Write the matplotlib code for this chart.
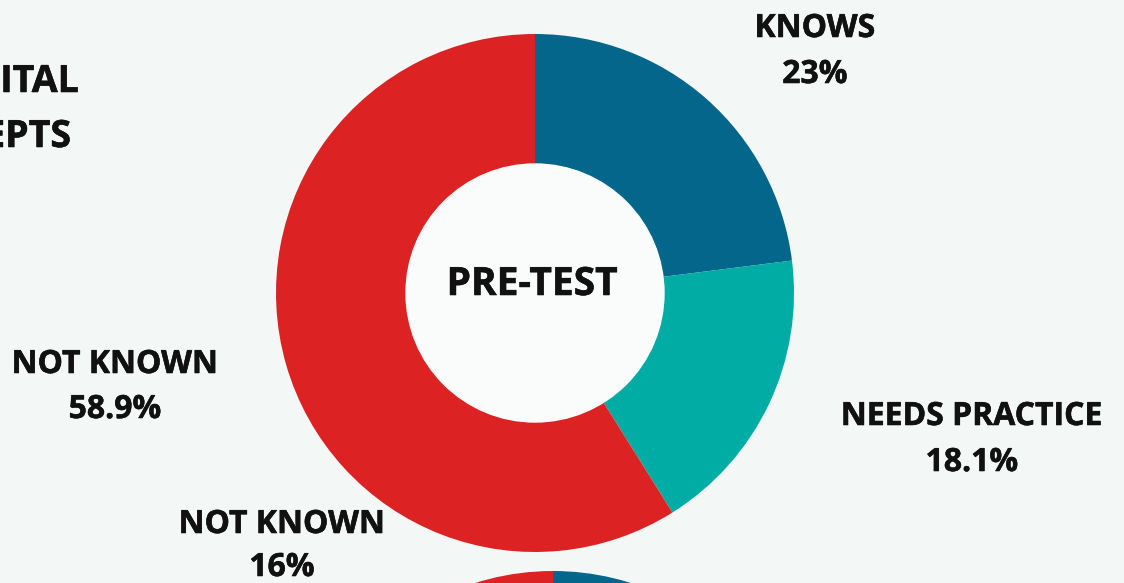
import matplotlib
matplotlib.use('Agg')
import matplotlib.pyplot as plt
import matplotlib.patheffects as pe

# data
categories = ['KNOWS', 'NEEDS PRACTICE', 'NOT KNOWN']
pre_test = [23, 18.1, 58.9]
post_test = [60, 24, 16]   # only the top of this ring is visible
colors = ['#03668a', '#00aca3', '#dc2222']
center_title = 'PRE-TEST'
side_title = ['ITAL', 'EPTS']

W, H = 1124, 583
bg = '#f3f8f7'

plt.rcParams['font.family'] = ['Open Sans', 'DejaVu Sans']

fig = plt.figure(figsize=(W / 100, H / 100), dpi=100, facecolor=bg)
ax = fig.add_axes([0, 0, 1, 1])


def py(y):
    # pixel row (from top) to data y
    return H - y


r_out = 259
r_in = 129

ax.pie(pre_test, colors=colors, startangle=90, counterclock=False,
       radius=r_out, center=(535, py(293)), frame=True,
       wedgeprops=dict(width=r_out - r_in, linewidth=0))
ax.add_patch(plt.Circle((535, py(293)), r_in, color='#fafcfc', zorder=3))

ax.pie(post_test, colors=colors, startangle=90, counterclock=False,
       radius=r_out, center=(553, py(830)), frame=True,
       wedgeprops=dict(width=r_out - r_in, linewidth=0))

ax.set_xlim(0, W)
ax.set_ylim(0, H)
ax.set_aspect('equal')
ax.axis('off')

heavy = [pe.withStroke(linewidth=0.4, foreground='#111111')]
lab = dict(fontsize=23, fontweight='bold', color='#111111', ha='center',
           va='baseline', path_effects=heavy)

ax.text(815, py(37), categories[0], **lab)
ax.text(815, py(83), '%g%%' % pre_test[0], **lab)
ax.text(972, py(425), categories[1], **lab)
ax.text(972, py(471), '%g%%' % pre_test[1], **lab)
ax.text(115, py(373), categories[2], **lab)
ax.text(115, py(418), '%g%%' % pre_test[2], **lab)
ax.text(282, py(533), categories[2], **lab)
ax.text(282, py(576), '%g%%' % post_test[2], **lab)

ax.text(532, py(295), center_title, fontsize=28, fontweight='bold',
        color='#111111', ha='center', va='baseline', zorder=4,
        path_effects=heavy)

ax.text(79, py(92), side_title[0], fontsize=27, fontweight='bold',
        color='#111111', ha='right', va='baseline', path_effects=heavy)
ax.text(71, py(147), side_title[1], fontsize=27, fontweight='bold',
        color='#111111', ha='right', va='baseline', path_effects=heavy)

fig.savefig('out.png', dpi=100, facecolor=bg)
